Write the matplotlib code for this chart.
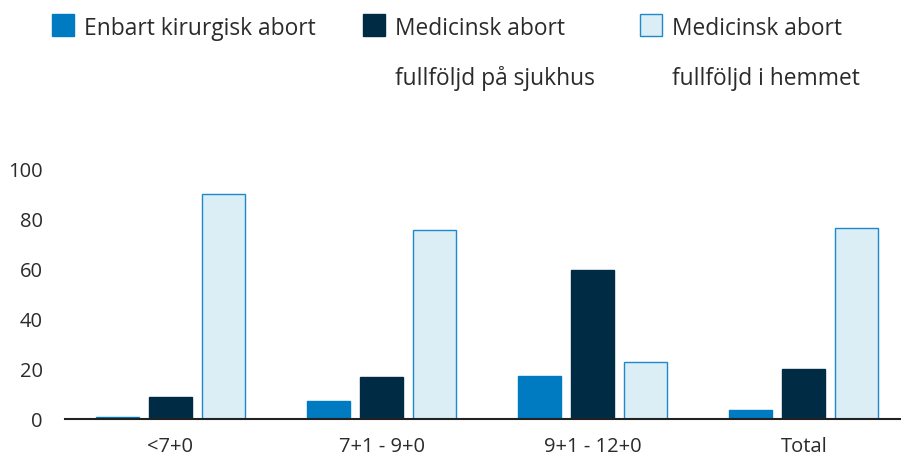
import numpy as np
import matplotlib
matplotlib.use('Agg')
import matplotlib.pyplot as plt
from matplotlib.patches import Rectangle

plt.rcParams['font.family'] = ['Open Sans', 'DejaVu Sans']

categories = ['<7+0', '7+1 - 9+0', '9+1 - 12+0', 'Total']
series_names = ['Enbart kirurgisk abort',
                'Medicinsk abort\nfullföljd på sjukhus',
                'Medicinsk abort\nfullföljd i hemmet']
kirurgisk = [0.8, 7.1, 17.4, 3.6]
med_sjukhus = [8.7, 16.7, 59.7, 19.9]
med_hemmet = [90.2, 76.0, 23.1, 76.6]
y_ticks = [0, 20, 40, 60, 80, 100]

colors = ['#007AC0', '#002B45', '#DCEEF5']
edges = ['#007AC0', '#002B45', '#1E88CC']
text_color = '#2b2b2b'

fig = plt.figure(figsize=(9.01, 4.58), dpi=100)
ax = fig.add_axes([0.072, 0.085, 0.928, 0.544])

x = np.arange(len(categories))
step = 0.251
width = 0.204
for i, vals in enumerate([kirurgisk, med_sjukhus, med_hemmet]):
    ax.bar(x + (i - 1) * step, vals, width, color=colors[i],
           edgecolor=edges[i], linewidth=1, zorder=2)

ax.set_xlim(-0.5, 3.46)
ax.set_ylim(0, 100)
ax.set_xticks(x)
ax.set_xticklabels(categories)
ax.set_yticks(y_ticks)
ax.tick_params(axis='both', length=0, labelsize=14.5, colors=text_color)
ax.tick_params(axis='x', pad=13)
ax.tick_params(axis='y', pad=16)
for s in ['top', 'right', 'left']:
    ax.spines[s].set_visible(False)
ax.spines['bottom'].set_color('#222222')
ax.spines['bottom'].set_linewidth(1.5)
ax.spines['bottom'].set_zorder(3)

# legend by hand, the original has very wide line spacing
leg_x = [52, 363, 640]
for i, name in enumerate(series_names):
    x0 = leg_x[i] / 901
    fig.add_artist(Rectangle((x0, 1 - 36 / 458), 22 / 901, 22 / 458,
                             transform=fig.transFigure, facecolor=colors[i],
                             edgecolor=edges[i], linewidth=1))
    for j, line in enumerate(name.split('\n')):
        fig.text(x0 + 32 / 901, 1 - (35 + 50 * j) / 458, line, fontsize=16.4,
                 color=text_color, va='baseline', ha='left')

fig.savefig('out.png', dpi=100)
